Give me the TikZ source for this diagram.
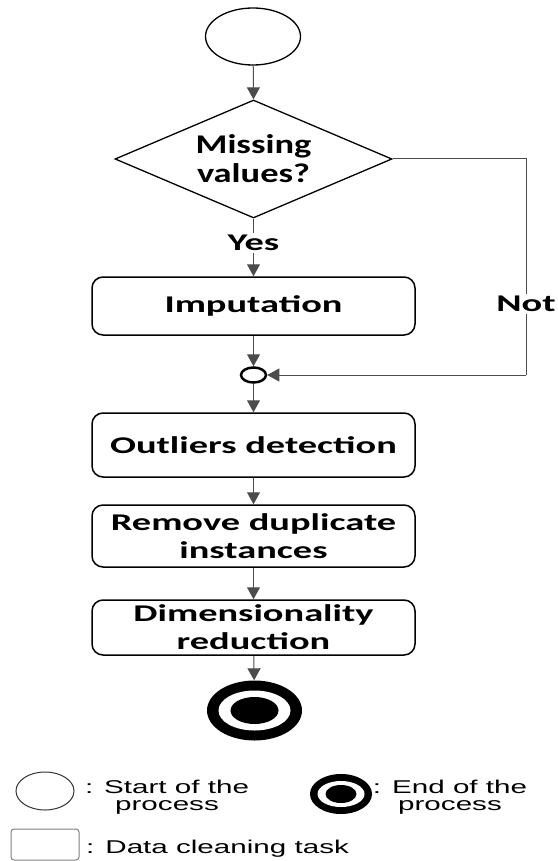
\documentclass[tikz,border=0pt]{standalone}
\usepackage{fontspec}
\usetikzlibrary{shapes.geometric,arrows.meta}
\newfontfamily\boxfont[FakeStretch=1.6]{Carlito}
\newfontfamily\diafont[FakeStretch=1.35]{Carlito}
\newfontfamily\legfont[FakeStretch=1.6]{Liberation Sans}
\tikzset{
  task/.style={draw=black, line width=1.5pt, rounded corners=11pt, minimum width=323pt, inner sep=0pt, align=center,
     font=\boxfont\bfseries\fontsize{24}{28}\selectfont},
  conn/.style={draw=black!70, line width=1pt, -{Triangle[width=13pt,length=12pt]}},
  plain/.style={draw=black!70, line width=1pt},
  lbl/.style={fill=white, inner sep=2pt, font=\boxfont\bfseries\fontsize{24}{28}\selectfont},
  ell/.style={ellipse, inner sep=0pt},
  leg/.style={font=\legfont\fontsize{18.5}{17.5}\selectfont, align=center, inner sep=0pt},
}
\begin{document}
\begin{tikzpicture}[x=1pt,y=-1pt]
\useasboundingbox (0,0) rectangle (557,861);
% start
\node[ell, draw=black, line width=1.3pt, minimum width=95pt, minimum height=57pt] (start) at (253,36.5) {};
% decision
\node[diamond, shape aspect=2.35, draw=black, line width=1.3pt, minimum width=277pt, minimum height=118pt, inner sep=0pt, align=center,
  font=\diafont\bfseries\fontsize{27}{29}\selectfont] (dec) at (253.5,159) {Missing\\values?};
% tasks
\node[task, minimum height=58pt] (imp) at (253.5,306) {Imputation};
\node[ell, draw=black, line width=2.5pt, minimum width=25pt, minimum height=15pt] (merge) at (253.5,375) {};
\node[task, minimum height=64pt] (out) at (253.5,445) {Outliers detection};
\node[task, minimum height=62pt] (rem) at (253.5,536) {Remove duplicate\\instances};
\node[task, minimum height=55pt] (dim) at (253.5,627.5) {Dimensionality\\reduction};
% end
\node[ell, fill=black, minimum width=95pt, minimum height=60pt] (end) at (254.5,710.5) {};
\node[ell, fill=white, minimum width=72pt, minimum height=40pt] (endw) at (end.center) {};
\node[ell, fill=black, minimum width=48pt, minimum height=27pt] (endd) at (end.center) {};
% connectors
\draw[conn] (start) -- (dec.north);
\draw[conn] (dec.south) -- node[lbl, pos=0.42] (yes) {Yes} (imp.north);
\draw[conn] (imp) -- (merge);
\coordinate (c1) at (526,159);
\coordinate (c2) at (526,375);
\draw[plain] (dec.east) -- (c1) -- node[lbl, pos=0.67] (not) {Not} (c2);
\draw[conn] (c2) -- (merge.east);
\draw[conn] (merge) -- (out);
\draw[conn] (out) -- (rem);
\draw[conn] (rem) -- (dim);
\draw[conn] (dim) -- (end);
% legend
\node[ell, draw=black!80, line width=1pt, minimum width=58pt, minimum height=38pt] (lstart) at (45,791) {};
\node[leg] (lstartt) at (167,797) {: Start of the\\process};
\node[ell, fill=black, minimum width=62pt, minimum height=40pt] (lend) at (341,794) {};
\node[ell, fill=white, minimum width=47pt, minimum height=26pt] (lendw) at (lend.center) {};
\node[ell, fill=black, minimum width=31pt, minimum height=18pt] (lendd) at (lend.center) {};
\node[leg] (lendt) at (450,797) {: End of the\\process};
\node[draw=black!50, line width=1pt, rounded corners=3pt, minimum width=68pt, minimum height=31pt, inner sep=0pt] (lrect) at (45,844.5) {};
\node[leg, anchor=base west] (lrectt) at (86,853) {: Data cleaning task};
\end{tikzpicture}
\end{document}
